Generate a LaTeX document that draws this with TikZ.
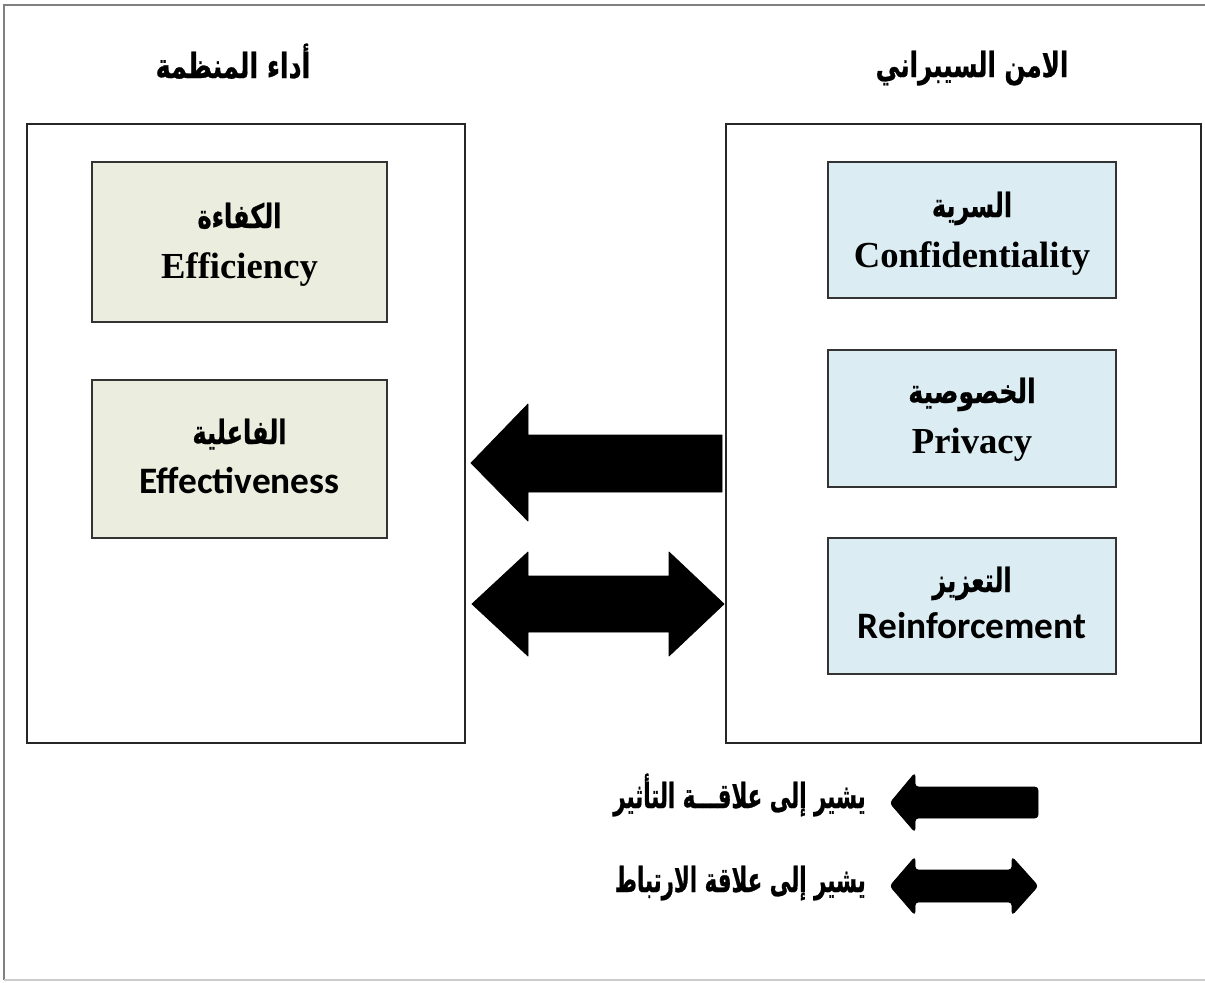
\documentclass[tikz,border=0pt]{standalone}
\usepackage{fontspec}
\TeXXeTstate=1
\newfontfamily\arabicfont[Script=Arabic, BoldFont={DejaVu Sans Bold}, BoldFeatures={FakeBold=0.8}]{DejaVu Sans}
\newfontfamily\timesfont{Liberation Serif}
\newfontfamily\calibrifont{Carlito}
\usetikzlibrary{fit}
\definecolor{olivefill}{HTML}{EBEEDE}
\definecolor{bluefill}{HTML}{DBEDF3}
% Arabic text: horizontal scale, vertical scale, text
\newcommand{\ar}[3]{\scalebox{#1}[#2]{\arabicfont\bfseries\fontsize{20}{24}\selectfont #3}}
\newcommand{\entm}[1]{{\timesfont\bfseries\fontsize{27.5}{34}\selectfont #1}}
\newcommand{\enca}[1]{{\calibrifont\bfseries\fontsize{28}{34}\selectfont #1}}
\begin{document}
\begin{tikzpicture}[x=0.75pt,y=-0.75pt,
  bigbox/.style={draw=black!85, line width=0.9pt, inner sep=0pt},
  greenbox/.style={draw=black!80, fill=olivefill, line width=1pt, inner sep=0pt},
  bluebox/.style={draw=black!80, fill=bluefill, line width=1pt, inner sep=0pt},
  linetext/.style={inner sep=0pt, anchor=base},
  blockarrow/.style={fill=black, draw=black, line width=0.6pt, line join=round},
  legendtext/.style={inner sep=0pt, anchor=base east}]
\useasboundingbox (0,0) rectangle (1205,982);
% outer frame
\draw[black!50, line width=1.5pt] (4,980) -- (4,5) -- (1206,5);
\draw[black!20, line width=1.2pt] (4,980) -- (1206,980);
% big boxes
\node[bigbox, fit={(27,124) (465,743)}] (left) {};
\node[bigbox, fit={(726,124) (1201,743)}] (right) {};
% titles
\node[linetext] (ttlL) at (233,78) {\ar{0.95}{1.3}{\beginR أداء المنظمة\endR}};
\node[linetext] (ttlR) at (972,77) {\ar{0.92}{1.3}{\beginR الامن السيبراني\endR}};
% left inner boxes
\node[greenbox, fit={(92,162) (387,322)}] (eff) {};
\node[linetext] (effAr) at (eff.center |- 0,228) {\ar{0.9}{1.25}{\beginR الكفاءة\endR}};
\node[linetext] (effEn) at (eff.center |- 0,278) {\entm{Efficiency}};
\node[greenbox, fit={(92,380) (387,538)}] (effv) {};
\node[linetext] (effvAr) at (effv.center |- 0,444) {\ar{0.9}{1.25}{\beginR الفاعلية\endR}};
\node[linetext] (effvEn) at (effv.center |- 0,493) {\enca{Effectiveness}};
% right inner boxes
\node[bluebox, fit={(828,162) (1116,298)}] (conf) {};
\node[linetext] (confAr) at (conf.center |- 0,217) {\ar{0.9}{1.25}{\beginR السرية\endR}};
\node[linetext] (confEn) at (conf.center |- 0,267) {\entm{Confidentiality}};
\node[bluebox, fit={(828,350) (1116,487)}] (priv) {};
\node[linetext] (privAr) at (priv.center |- 0,403) {\ar{0.95}{1.25}{\beginR الخصوصية\endR}};
\node[linetext] (privEn) at (priv.center |- 0,453) {\entm{Privacy}};
\node[bluebox, fit={(828,538) (1116,674)}] (reinf) {};
\node[linetext] (reinfAr) at (reinf.center |- 0,592) {\ar{0.9}{1.25}{\beginR التعزيز\endR}};
\node[linetext] (reinfEn) at (reinf.center |- 0,638) {\enca{Reinforcement}};
% main arrows
\fill[blockarrow] (722,435) -- (528,435) -- (528,404) -- (471,463) -- (528,521) -- (528,492) -- (722,492) -- cycle;
\fill[blockarrow] (472,604) -- (528,552) -- (528,576) -- (669,576) -- (669,552) -- (724,604) -- (669,656) -- (669,632) -- (528,632) -- (528,656) -- cycle;
% legend
\fill[blockarrow, rounded corners=2.5pt] (1038,787) -- (915,787) -- (915,773) -- (890,803) -- (915,832) -- (915,818) -- (1038,818) -- cycle;
\fill[blockarrow, rounded corners=2.5pt] (890,886) -- (915,857) -- (915,870) -- (1012,870) -- (1012,857) -- (1038,886) -- (1012,915) -- (1012,902) -- (915,902) -- (915,915) -- cycle;
\node[legendtext] (lg1) at (866,808) {\ar{0.8}{1.3}{\beginR يشير إلى علاقـــة التأثير\endR}};
\node[legendtext] (lg2) at (866,892) {\ar{0.8}{1.3}{\beginR يشير إلى علاقة الارتباط\endR}};
\end{tikzpicture}
\end{document}
